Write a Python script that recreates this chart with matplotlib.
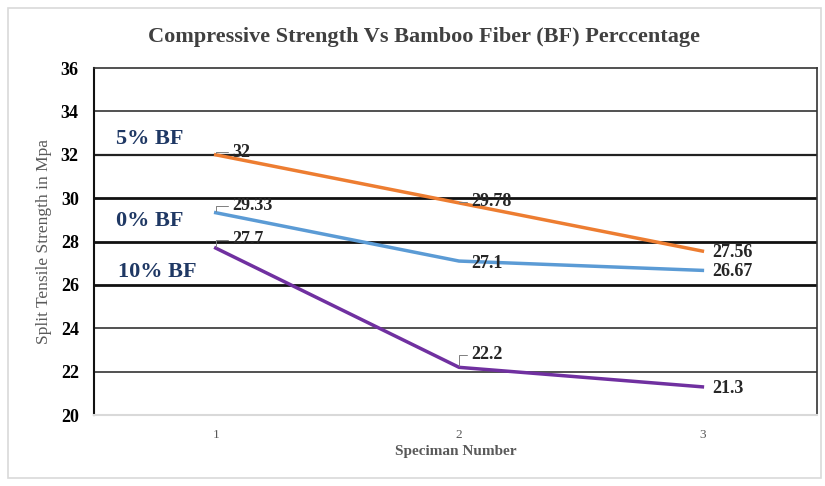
import matplotlib
matplotlib.use("Agg")
from matplotlib import pyplot as plt
from matplotlib.patches import Rectangle

plt.rcParams['font.family'] = ['Liberation Serif', 'DejaVu Serif']

# data
specimens = [1, 2, 3]
bf_5  = [32, 29.78, 27.56]
bf_0  = [29.33, 27.1, 26.67]
bf_10 = [27.7, 22.2, 21.3]
series_names = ['5% BF', '0% BF', '10% BF']
y_ticks = [20, 22, 24, 26, 28, 30, 32, 34, 36]

colors = ['#ED7D31', '#5B9BD5', '#7030A0']

fig = plt.figure(figsize=(8.25, 4.86), dpi=100)
ax = fig.add_axes([0.114, 0.146, 0.876, 0.714])

# outer chart frame
fig.patches.append(Rectangle((8/825, 8/486), 813/825, 470/486, transform=fig.transFigure,
                             fill=False, edgecolor='#d9d9d9', lw=1.2))

# gridlines, the middle ones come out heavier in the original
for y in y_ticks[1:-1]:
    if y in (26, 28, 30):
        ax.axhline(y, color='#111111', lw=2.0, zorder=1)
    elif y == 32:
        ax.axhline(y, color='#222222', lw=1.6, zorder=1)
    else:
        ax.axhline(y, color='#333333', lw=1.2, zorder=1)

all_series = [bf_5, bf_0, bf_10]
for vals, c in zip(all_series, colors):
    ax.plot(specimens, vals, color=c, lw=2.5, zorder=3)

# data labels (offsets in points), bracket leaders where the original shows them
label_offsets = {
    0: [(12, 2, True), (9, 1, True), (7, -1, False)],
    1: [(12, 5, True), (9, -2, False), (7, -1, False)],
    2: [(12, 6, True), (9, 9, True), (7, -1, False)],
}
for s, vals in enumerate(all_series):
    for i, v in enumerate(vals):
        dx, dy, leader = label_offsets[s][i]
        txt = ('%g' % v)
        kw = {}
        if leader:
            kw['arrowprops'] = dict(arrowstyle='-', color='#7f7f7f', lw=0.7,
                                    shrinkA=1, shrinkB=1,
                                    connectionstyle='angle,angleA=180,angleB=90,rad=0')
        ax.annotate(txt, xy=(specimens[i], v), xytext=(dx, dy), textcoords='offset points',
                    ha='left', va='center', fontsize=13, fontweight='bold',
                    color='#262626', zorder=4, **kw)

# series names placed inside the plot
name_pos = [(0.59, 32.72), (0.59, 28.93), (0.6, 26.61)]
for name, (x, y) in zip(series_names, name_pos):
    ax.text(x, y, name, fontsize=16, fontweight='bold', color='#1F3864',
            ha='left', va='center', zorder=4)

ax.set_xlim(0.5, 3.47)
ax.set_ylim(20, 36)
ax.set_xticks(specimens)
ax.set_yticks(y_ticks)
ax.tick_params(axis='both', length=0)
ax.tick_params(axis='x', labelsize=9.5, colors='#595959', pad=10)
ax.tick_params(axis='y', labelsize=13, pad=11)
for lab in ax.get_yticklabels():
    lab.set_fontweight('bold')

ax.spines['left'].set_color('#111111')
ax.spines['left'].set_linewidth(1.5)
ax.spines['top'].set_color('#333333')
ax.spines['top'].set_linewidth(1.2)
ax.spines['right'].set_color('#333333')
ax.spines['right'].set_linewidth(1.2)
ax.spines['bottom'].set_color('#d9d9d9')
ax.spines['bottom'].set_linewidth(1.5)

ax.set_xlabel('Speciman Number', fontsize=11, fontweight='bold', color='#595959', labelpad=3)
ax.set_ylabel('Split Tensile Strength in Mpa', fontsize=12.5, color='#595959', labelpad=6)

fig.text(0.514, 0.924, 'Compressive Strength Vs Bamboo Fiber (BF) Perccentage',
         ha='center', va='center', fontsize=16, fontweight='bold', color='#404040')

plt.savefig('out.png', format='png')
